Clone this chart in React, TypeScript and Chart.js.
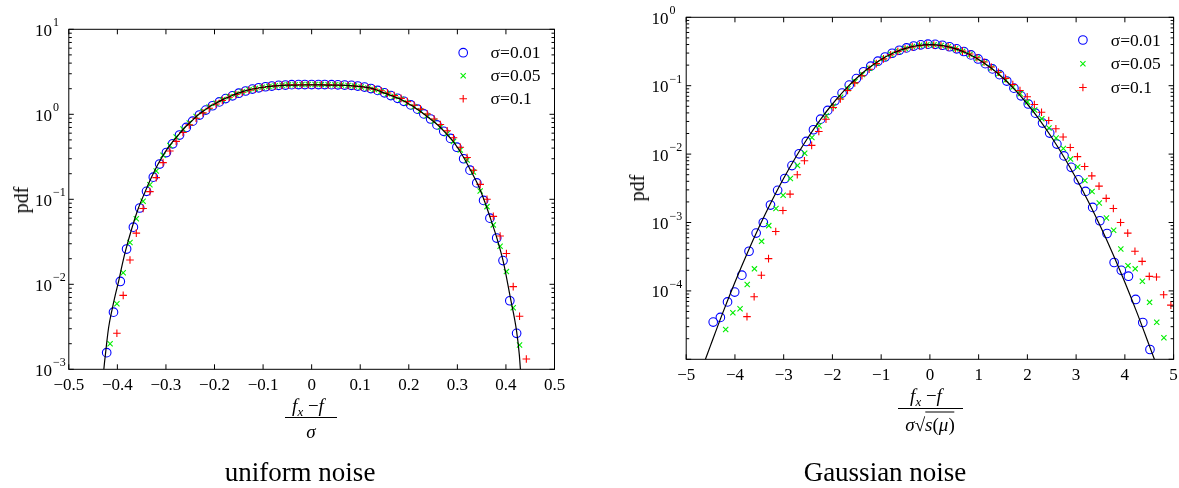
import React, { useEffect, useRef } from 'react';
import { Chart, registerables } from 'chart.js';

Chart.register(...registerables);

const FONT = '"Liberation Serif", "Times New Roman", serif';

// ---------------- uniform noise panel ----------------
const uCircleX = [-0.422, -0.408, -0.394, -0.381, -0.367, -0.354, -0.340, -0.326, -0.313, -0.299, -0.286, -0.272, -0.258, -0.245, -0.231, -0.218, -0.204, -0.190, -0.177, -0.163, -0.150, -0.136, -0.122, -0.109, -0.095, -0.082, -0.068, -0.054, -0.041, -0.027, -0.014, 0,
  0.014, 0.027, 0.041, 0.054, 0.068, 0.082, 0.095, 0.109, 0.122, 0.136, 0.150, 0.163, 0.177, 0.190, 0.204, 0.218, 0.231, 0.245, 0.258, 0.272, 0.286, 0.299, 0.313, 0.326, 0.340, 0.354, 0.367, 0.381, 0.394, 0.408, 0.422];
const uCircleY = [0.00157, 0.0047, 0.0108, 0.026, 0.047, 0.079, 0.124, 0.182, 0.26, 0.355, 0.45, 0.57, 0.70, 0.83, 0.98, 1.12, 1.26, 1.40, 1.53, 1.65, 1.77, 1.88, 1.98, 2.05, 2.11, 2.15, 2.19, 2.21, 2.23, 2.24, 2.24, 2.24,
  2.24, 2.24, 2.23, 2.22, 2.21, 2.19, 2.15, 2.09, 2.01, 1.91, 1.79, 1.66, 1.54, 1.42, 1.29, 1.15, 1.01, 0.88, 0.75, 0.63, 0.52, 0.41, 0.30, 0.22, 0.156, 0.097, 0.060, 0.035, 0.019, 0.0064, 0.00265];

const uCrossX = [-0.415, -0.401, -0.388, -0.374, -0.361, -0.347, -0.333, -0.320, -0.306, -0.292, -0.279, -0.265, -0.252, -0.238, -0.224, -0.211, -0.197, -0.184, -0.170, -0.156, -0.143, -0.129, -0.116, -0.102, -0.088, -0.075, -0.061, -0.048, -0.034, -0.020, -0.007,
  0.007, 0.020, 0.034, 0.048, 0.061, 0.075, 0.088, 0.102, 0.116, 0.129, 0.143, 0.156, 0.170, 0.184, 0.197, 0.211, 0.224, 0.238, 0.252, 0.265, 0.279, 0.292, 0.306, 0.320, 0.333, 0.347, 0.361, 0.374, 0.388, 0.401, 0.415, 0.428];
const uCrossY = [0.0020, 0.0059, 0.0137, 0.031, 0.059, 0.095, 0.148, 0.215, 0.33, 0.43, 0.54, 0.67, 0.79, 0.94, 1.08, 1.22, 1.35, 1.48, 1.61, 1.73, 1.84, 1.94, 2.01, 2.08, 2.13, 2.17, 2.20, 2.22, 2.23, 2.24, 2.24,
  2.24, 2.24, 2.23, 2.22, 2.21, 2.18, 2.15, 2.10, 2.04, 1.96, 1.86, 1.74, 1.62, 1.50, 1.37, 1.23, 1.10, 0.96, 0.83, 0.71, 0.59, 0.48, 0.38, 0.29, 0.21, 0.125, 0.082, 0.050, 0.028, 0.0141, 0.0053, 0.00193];

const uPlusX = [-0.401, -0.388, -0.374, -0.361, -0.347, -0.333, -0.320, -0.306, -0.292, -0.279, -0.265, -0.252, -0.238, -0.224, -0.211, -0.197, -0.184, -0.170, -0.156, -0.143, -0.129, -0.116, -0.102, -0.088, -0.075, -0.061, -0.048, -0.034, -0.020, -0.007,
  0.007, 0.020, 0.034, 0.048, 0.061, 0.075, 0.088, 0.102, 0.116, 0.129, 0.143, 0.156, 0.170, 0.184, 0.197, 0.211, 0.224, 0.238, 0.252, 0.265, 0.279, 0.292, 0.306, 0.320, 0.333, 0.347, 0.361, 0.374, 0.388, 0.401, 0.415, 0.428, 0.442];
const uPlusY = [0.00265, 0.0074, 0.0193, 0.040, 0.078, 0.123, 0.18, 0.27, 0.37, 0.48, 0.61, 0.75, 0.90, 1.04, 1.18, 1.32, 1.46, 1.59, 1.71, 1.82, 1.92, 2.00, 2.07, 2.12, 2.16, 2.19, 2.21, 2.22, 2.23, 2.23,
  2.23, 2.23, 2.22, 2.21, 2.20, 2.18, 2.15, 2.11, 2.05, 1.98, 1.89, 1.78, 1.66, 1.54, 1.41, 1.28, 1.15, 1.01, 0.88, 0.76, 0.64, 0.53, 0.41, 0.31, 0.22, 0.15, 0.10, 0.063, 0.037, 0.023, 0.0094, 0.0042, 0.00132];

const uCurveX = [-0.4295, -0.4265, -0.4226, -0.418, -0.411, -0.404, -0.397, -0.390, -0.383, -0.370, -0.357, -0.343, -0.330, -0.317, -0.303, -0.290, -0.275, -0.262, -0.248, -0.235, -0.221, -0.209, -0.195, -0.181, -0.167, -0.153, -0.139, -0.124, -0.110, -0.095, -0.081, -0.067, -0.05, -0.03, 0,
  0.03, 0.06, 0.08, 0.10, 0.114, 0.127, 0.141, 0.155, 0.170, 0.183, 0.196, 0.210, 0.222, 0.236, 0.250, 0.264, 0.276, 0.290, 0.303, 0.316, 0.328, 0.342, 0.356, 0.368, 0.382, 0.395, 0.408, 0.422, 0.4275, 0.431];
const uCurveY = [0.0008, 0.0012, 0.0019, 0.0031, 0.0050, 0.0076, 0.0111, 0.0170, 0.0250, 0.046, 0.078, 0.122, 0.180, 0.255, 0.350, 0.445, 0.565, 0.69, 0.82, 0.97, 1.11, 1.24, 1.37, 1.51, 1.63, 1.76, 1.87, 1.97, 2.04, 2.10, 2.15, 2.18, 2.20, 2.21, 2.22,
  2.21, 2.20, 2.17, 2.12, 2.07, 1.99, 1.86, 1.74, 1.61, 1.50, 1.37, 1.23, 1.10, 0.955, 0.83, 0.71, 0.60, 0.49, 0.385, 0.29, 0.215, 0.150, 0.095, 0.060, 0.034, 0.018, 0.0075, 0.0028, 0.0015, 0.0008];

const uXTicks = [-0.5, -0.4, -0.3, -0.2, -0.1, 0, 0.1, 0.2, 0.3, 0.4, 0.5];
const uXTickLabels = ['\u22120.5', '\u22120.4', '\u22120.3', '\u22120.2', '\u22120.1', '0', '0.1', '0.2', '0.3', '0.4', '0.5'];
const uYDecades = [-3, -2, -1, 0, 1];
const uYLabelExps = ['1', '0', '\u22121', '\u22122', '\u22123'];
const uYLabelDecades = [1, 0, -1, -2, -3];

// ---------------- Gaussian noise panel ----------------
const gCircleX = [-4.446, -4.299, -4.152, -4.005, -3.858, -3.711, -3.565, -3.418, -3.271, -3.124, -2.977, -2.830, -2.683, -2.536, -2.389, -2.242, -2.096, -1.949, -1.802, -1.655, -1.508, -1.361, -1.214, -1.067, -0.920, -0.774, -0.627, -0.480, -0.333, -0.186, -0.039,
  0.108, 0.255, 0.402, 0.549, 0.696, 0.842, 0.989, 1.136, 1.283, 1.430, 1.577, 1.724, 1.871, 2.018, 2.165, 2.311, 2.458, 2.605, 2.752, 2.899, 3.046, 3.193, 3.340, 3.487, 3.634, 3.780, 3.927, 4.074, 4.221, 4.368, 4.515];
const gCircleY = [3.5e-5, 4.1e-5, 6.9e-5, 9.6e-5, 1.7e-4, 3.8e-4, 7.0e-4, 1.0e-3, 1.8e-3, 2.95e-3, 4.4e-3, 6.8e-3, 1.01e-2, 1.53e-2, 2.27e-2, 3.24e-2, 4.35e-2, 6.0e-2, 7.8e-2, 0.102, 0.127, 0.160, 0.193, 0.228, 0.263, 0.298, 0.330, 0.357, 0.380, 0.396, 0.405,
  0.402, 0.390, 0.371, 0.346, 0.316, 0.282, 0.246, 0.210, 0.176, 0.145, 0.117, 0.092, 0.071, 0.054, 0.0397, 0.0284, 0.0203, 0.0140, 0.0094, 0.0064, 0.0042, 0.00285, 0.00166, 0.00106, 6.9e-4, 2.6e-4, 2.0e-4, 1.64e-4, 7.5e-5, 3.45e-5, 1.39e-5];

const gCrossX = [-4.190, -4.043, -3.895, -3.748, -3.600, -3.453, -3.306, -3.158, -3.011, -2.863, -2.716, -2.569, -2.421, -2.274, -2.126, -1.979, -1.832, -1.684, -1.537, -1.389, -1.242, -1.095, -0.947, -0.800, -0.652, -0.505, -0.358, -0.210, -0.063,
  0.085, 0.232, 0.379, 0.527, 0.674, 0.822, 0.969, 1.116, 1.264, 1.411, 1.559, 1.706, 1.853, 2.001, 2.148, 2.296, 2.443, 2.590, 2.738, 2.885, 3.033, 3.180, 3.327, 3.475, 3.622, 3.770, 3.917, 4.064, 4.212, 4.359, 4.507, 4.654, 4.801];
const gCrossY = [2.72e-5, 4.8e-5, 5.5e-5, 1.24e-4, 2.1e-4, 5.3e-4, 9.0e-4, 1.6e-3, 2.5e-3, 4.4e-3, 6.8e-3, 1.03e-2, 1.75e-2, 2.6e-2, 3.63e-2, 5.0e-2, 6.8e-2, 0.090, 0.115, 0.146, 0.180, 0.215, 0.252, 0.288, 0.320, 0.350, 0.374, 0.390, 0.398,
  0.398, 0.388, 0.371, 0.347, 0.318, 0.286, 0.251, 0.215, 0.181, 0.149, 0.121, 0.096, 0.076, 0.058, 0.044, 0.033, 0.0240, 0.0172, 0.0121, 8.45e-3, 6.46e-3, 4.12e-3, 2.84e-3, 1.93e-3, 1.16e-3, 7.7e-4, 4.1e-4, 2.34e-4, 2.1e-4, 1.38e-4, 6.8e-5, 3.48e-5, 2.06e-5];

const gPlusX = [-3.753, -3.606, -3.458, -3.311, -3.163, -3.016, -2.869, -2.721, -2.574, -2.426, -2.279, -2.132, -1.984, -1.837, -1.689, -1.542, -1.395, -1.247, -1.100, -0.952, -0.805, -0.658, -0.510, -0.363, -0.215, -0.068,
  0.079, 0.227, 0.374, 0.522, 0.669, 0.816, 0.964, 1.111, 1.259, 1.406, 1.553, 1.701, 1.848, 1.996, 2.143, 2.290, 2.438, 2.585, 2.733, 2.880, 3.027, 3.175, 3.322, 3.470, 3.617, 3.764, 3.912, 4.059, 4.207, 4.354, 4.501, 4.649, 4.796, 4.944];
const gPlusY = [4.2e-5, 8.2e-5, 1.69e-4, 2.96e-4, 7.4e-4, 1.5e-3, 2.6e-3, 5.0e-3, 8.0e-3, 1.34e-2, 2.14e-2, 3.24e-2, 4.8e-2, 6.4e-2, 0.085, 0.110, 0.140, 0.174, 0.210, 0.247, 0.284, 0.318, 0.347, 0.370, 0.386, 0.394,
  0.394, 0.386, 0.370, 0.348, 0.320, 0.290, 0.256, 0.222, 0.188, 0.157, 0.128, 0.104, 0.085, 0.069, 0.053, 0.041, 0.031, 0.0235, 0.0178, 0.0125, 9.2e-3, 6.6e-3, 4.8e-3, 3.4e-3, 2.25e-3, 1.6e-3, 1.0e-3, 7.0e-4, 3.8e-4, 2.7e-4, 1.63e-4, 1.6e-4, 8.8e-5, 6.2e-5];

const gCurveX = [-4.65, -4.5, -4.25, -4, -3.75, -3.5, -3.25, -3, -2.75, -2.5, -2.25, -2, -1.75, -1.5, -1.25, -1, -0.75, -0.5, -0.25, 0,
  0.25, 0.5, 0.75, 1, 1.25, 1.5, 1.75, 2, 2.25, 2.5, 2.75, 3, 3.25, 3.5, 3.75, 4, 4.25, 4.5, 4.65];
const gCurveY = [8.2e-6, 1.6e-5, 4.77e-5, 1.34e-4, 3.53e-4, 8.73e-4, 2.03e-3, 4.43e-3, 9.09e-3, 1.75e-2, 3.17e-2, 5.40e-2, 8.63e-2, 0.1295, 0.1826, 0.2420, 0.3011, 0.3521, 0.3867, 0.3989,
  0.3867, 0.3521, 0.3011, 0.2420, 0.1826, 0.1295, 8.63e-2, 5.40e-2, 3.17e-2, 1.75e-2, 9.09e-3, 4.43e-3, 2.03e-3, 8.73e-4, 3.53e-4, 1.34e-4, 4.77e-5, 1.6e-5, 8.2e-6];

const gXTicks = [-5, -4, -3, -2, -1, 0, 1, 2, 3, 4, 5];
const gXTickLabels = ['\u22125', '\u22124', '\u22123', '\u22122', '\u22121', '0', '1', '2', '3', '4', '5'];
const gYDecades = [-5, -4, -3, -2, -1, 0];
const gYLabelExps = ['0', '\u22121', '\u22122', '\u22123', '\u22124'];
const gYLabelDecades = [0, -1, -2, -3, -4];

const minorMultipliers = [2, 3, 4, 5, 6, 7, 8, 9];
const seriesLabels = ['\u03c3=0.01', '\u03c3=0.05', '\u03c3=0.1'];
const BLUE = '#0000ff';
const GREEN = '#00ee00';
const RED = '#ff0000';

function pts(xs: number[], ys: number[]) {
  return xs.map((x, i) => ({ x, y: ys[i] }));
}

function drawMarker(ctx: CanvasRenderingContext2D, kind: number, x: number, y: number) {
  ctx.beginPath();
  if (kind === 0) {
    ctx.strokeStyle = BLUE;
    ctx.arc(x, y, 4.3, 0, Math.PI * 2);
  } else if (kind === 1) {
    ctx.strokeStyle = GREEN;
    const d = 2.6;
    ctx.moveTo(x - d, y - d); ctx.lineTo(x + d, y + d);
    ctx.moveTo(x - d, y + d); ctx.lineTo(x + d, y - d);
  } else {
    ctx.strokeStyle = RED;
    const d = 3.8;
    ctx.moveTo(x - d, y); ctx.lineTo(x + d, y);
    ctx.moveTo(x, y - d); ctx.lineTo(x, y + d);
  }
  ctx.lineWidth = 1.1;
  ctx.stroke();
}

type PanelCfg = {
  xTicks: number[];
  xTickLabels: string[];
  yDecades: number[];
  yLabelDecades: number[];
  yLabelExps: string[];
  yLabelX: number;
  legendMX: number;
  legendRows: number[];
  legendTX: number;
};

function framePlugin(cfg: PanelCfg) {
  return {
    id: 'frame',
    afterDraw(chart: any) {
      const { ctx, chartArea: a, scales } = chart;
      const sx = scales.x;
      const sy = scales.y;
      ctx.save();
      ctx.strokeStyle = '#000';
      ctx.lineWidth = 1;
      ctx.strokeRect(a.left, a.top, a.right - a.left, a.bottom - a.top);
      ctx.beginPath();
      for (const t of cfg.xTicks) {
        const px = sx.getPixelForValue(t);
        ctx.moveTo(px, a.bottom); ctx.lineTo(px, a.bottom - 5);
        ctx.moveTo(px, a.top); ctx.lineTo(px, a.top + 5);
      }
      for (const e of cfg.yDecades) {
        const py = sy.getPixelForValue(Math.pow(10, e));
        ctx.moveTo(a.left, py); ctx.lineTo(a.left + 5, py);
        ctx.moveTo(a.right, py); ctx.lineTo(a.right - 5, py);
      }
      for (let i = 0; i < cfg.yDecades.length - 1; i++) {
        const e = cfg.yDecades[i];
        for (const m of minorMultipliers) {
          const py = sy.getPixelForValue(m * Math.pow(10, e));
          ctx.moveTo(a.left, py); ctx.lineTo(a.left + 3, py);
          ctx.moveTo(a.right, py); ctx.lineTo(a.right - 3, py);
        }
      }
      ctx.stroke();

      ctx.fillStyle = '#000';
      ctx.font = `17px ${FONT}`;
      ctx.textAlign = 'center';
      ctx.textBaseline = 'middle';
      cfg.xTicks.forEach((t, i) => {
        ctx.fillText(cfg.xTickLabels[i], sx.getPixelForValue(t), a.bottom + 16);
      });

      ctx.textAlign = 'left';
      cfg.yLabelDecades.forEach((e, i) => {
        const py = sy.getPixelForValue(Math.pow(10, e));
        ctx.font = `17px ${FONT}`;
        ctx.fillText('10', cfg.yLabelX, py + 2);
        const w = ctx.measureText('10').width;
        ctx.font = `12px ${FONT}`;
        ctx.fillText(cfg.yLabelExps[i], cfg.yLabelX + w + 1, py - 6);
      });

      ctx.font = `17.5px ${FONT}`;
      seriesLabels.forEach((lab, i) => {
        const y = cfg.legendRows[i];
        drawMarker(ctx, i, cfg.legendMX, y);
        ctx.fillStyle = '#000';
        ctx.fillText(lab, cfg.legendTX, y + 1);
      });
      ctx.restore();
    },
  };
}

function makeConfig(
  series: { x: number[]; y: number[] }[],
  curve: { x: number[]; y: number[] },
  xMin: number, xMax: number, yMin: number, yMax: number,
  padding: { left: number; right: number; top: number; bottom: number },
  cfg: PanelCfg,
): any {
  const styles = [
    { pointStyle: 'circle', pointRadius: 4.3, color: BLUE, order: 4 },
    { pointStyle: 'crossRot', pointRadius: 3.7, color: GREEN, order: 3 },
    { pointStyle: 'cross', pointRadius: 3.8, color: RED, order: 2 },
  ];
  const datasets: any[] = series.map((s, i) => ({
    label: seriesLabels[i],
    data: pts(s.x, s.y),
    showLine: false,
    pointStyle: styles[i].pointStyle,
    pointRadius: styles[i].pointRadius,
    pointBorderColor: styles[i].color,
    pointBackgroundColor: 'rgba(0,0,0,0)',
    pointBorderWidth: 1.1,
    order: styles[i].order,
    clip: 0,
  }));
  datasets.push({
    label: 'curve',
    data: pts(curve.x, curve.y),
    showLine: true,
    borderColor: '#000',
    borderWidth: 1.2,
    pointRadius: 0,
    cubicInterpolationMode: 'monotone',
    order: 1,
    clip: 0,
  });
  return {
    type: 'scatter',
    data: { datasets },
    options: {
      responsive: false,
      animation: false,
      events: [],
      layout: { padding },
      plugins: { legend: { display: false }, tooltip: { enabled: false } },
      scales: {
        x: { type: 'linear', min: xMin, max: xMax, display: false },
        y: { type: 'logarithmic', min: yMin, max: yMax, display: false },
      },
    },
    plugins: [framePlugin(cfg)],
  };
}

const abs = (left: number, top: number, extra: React.CSSProperties = {}): React.CSSProperties => ({
  position: 'absolute', left, top, whiteSpace: 'nowrap', lineHeight: 1, ...extra,
});

export default function App() {
  const leftRef = useRef<HTMLCanvasElement>(null);
  const rightRef = useRef<HTMLCanvasElement>(null);

  useEffect(() => {
    const c1 = new Chart(leftRef.current as HTMLCanvasElement, makeConfig(
      [{ x: uCircleX, y: uCircleY }, { x: uCrossX, y: uCrossY }, { x: uPlusX, y: uPlusY }],
      { x: uCurveX, y: uCurveY },
      -0.5, 0.5, 1e-3, 10,
      { left: 68.8, right: 35.5, top: 29.3, bottom: 118.7 },
      {
        xTicks: uXTicks, xTickLabels: uXTickLabels, yDecades: uYDecades,
        yLabelDecades: uYLabelDecades, yLabelExps: uYLabelExps, yLabelX: 35,
        legendMX: 463.2, legendRows: [52.7, 75.7, 98.7], legendTX: 490.6,
      },
    ));
    const c2 = new Chart(rightRef.current as HTMLCanvasElement, makeConfig(
      [{ x: gCircleX, y: gCircleY }, { x: gCrossX, y: gCrossY }, { x: gPlusX, y: gPlusY }],
      { x: gCurveX, y: gCurveY },
      -5, 5, 1e-5, 1,
      { left: 96.2, right: 4.4, top: 17.3, bottom: 128.7 },
      {
        xTicks: gXTicks, xTickLabels: gXTickLabels, yDecades: gYDecades,
        yLabelDecades: gYLabelDecades, yLabelExps: gYLabelExps, yLabelX: 61.5,
        legendMX: 492.9, legendRows: [40, 63.7, 87.5], legendTX: 520.7,
      },
    ));
    return () => { c1.destroy(); c2.destroy(); };
  }, []);

  const it: React.CSSProperties = { fontStyle: 'italic' };
  const sub: React.CSSProperties = { fontStyle: 'italic', fontSize: '0.68em', position: 'relative', top: '0.3em' };

  return (
    <div style={{ position: 'absolute', left: 0, top: 0, width: 1179, height: 488, background: '#fff', overflow: 'hidden', fontFamily: FONT, color: '#000' }}>
      <canvas ref={leftRef} width={590} height={488} style={{ position: 'absolute', left: 0, top: 0, width: 590, height: 488 }} />
      <canvas ref={rightRef} width={589} height={488} style={{ position: 'absolute', left: 590, top: 0, width: 589, height: 488 }} />

      <div style={abs(21, 200, { fontSize: 20, transform: 'translate(-50%,-50%) rotate(-90deg)' })}>pdf</div>
      <div style={abs(637, 188, { fontSize: 20, transform: 'translate(-50%,-50%) rotate(-90deg)' })}>pdf</div>

      <div style={abs(308, 405, { fontSize: 19, transform: 'translate(-50%,-50%)' })}>
        <span style={it}>f</span><span style={sub}>x</span>&nbsp;{'\u2212'}<span style={it}>f</span>
      </div>
      <div style={{ position: 'absolute', left: 284.6, top: 416.5, width: 52.6, borderTop: '1px solid #000' }} />
      <div style={abs(311, 431, { fontSize: 19, transform: 'translate(-50%,-50%)' })}>
        <span style={it}>{'\u03c3'}</span>
      </div>

      <div style={abs(926, 395, { fontSize: 19, transform: 'translate(-50%,-50%)' })}>
        <span style={it}>f</span><span style={sub}>x</span>&nbsp;{'\u2212'}<span style={it}>f</span>
      </div>
      <div style={{ position: 'absolute', left: 897.5, top: 408, width: 65.5, borderTop: '1px solid #000' }} />
      <div style={abs(930, 424, { fontSize: 19, transform: 'translate(-50%,-50%)' })}>
        <span style={it}>{'\u03c3'}</span>{'\u221a'}<span style={{ borderTop: '1px solid #000', paddingTop: 1 }}><span style={it}>s</span>(<span style={it}>{'\u03bc'}</span>)</span>
      </div>

      <div style={abs(300, 459, { fontSize: 27, lineHeight: '27px', transform: 'translateX(-50%)' })}>uniform noise</div>
      <div style={abs(885, 459, { fontSize: 27, lineHeight: '27px', transform: 'translateX(-50%)' })}>Gaussian noise</div>
    </div>
  );
}
